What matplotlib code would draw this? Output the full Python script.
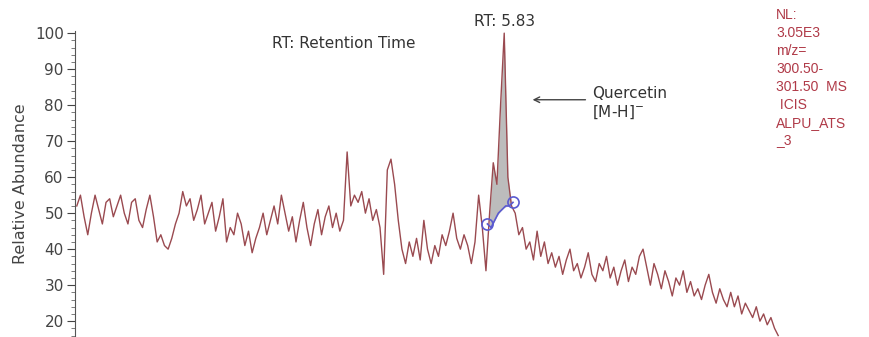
import numpy as np
import matplotlib
matplotlib.use("Agg")
import matplotlib.pyplot as plt

plt.rcParams['font.family'] = ['DejaVu Sans']

# chromatogram trace, relative abundance (%), one value every 0.05 min
abundance = [
    52, 55, 49, 44, 50, 55, 51, 47, 53, 54, 49, 52, 55, 50, 47, 53, 54, 48, 46, 51, 55, 49, 42, 44, 41,
    40, 43, 47, 50, 56, 52, 54, 48, 51, 55, 47, 50, 53, 45, 49, 54, 42, 46, 44, 50, 47, 41, 45, 39, 43,
    46, 50, 44, 48, 52, 47, 55, 50, 45, 49, 42, 48, 53, 46, 41, 47, 51, 44, 49, 52, 46, 50, 45, 48,
    67, 52, 55, 53, 56, 50, 54, 48, 51, 46, 33, 62, 65, 58, 48, 40, 36, 42, 38, 43, 37, 48, 40, 36,
    41, 38, 44, 41, 45, 50, 43, 40, 44, 41, 36, 42, 55, 46, 34, 50, 64, 58, 80, 100, 60, 52, 50, 44,
    46, 40, 42, 37, 45, 38, 42, 36, 39, 35, 38, 33, 37, 40, 34, 36, 32, 35, 39, 33, 31, 36, 34, 38,
    32, 35, 30, 34, 37, 31, 35, 33, 38, 40, 35, 30, 36, 33, 29, 34, 31, 27, 32, 30, 34, 28, 31, 27,
    29, 26, 30, 33, 28, 25, 29, 26, 24, 28, 24, 27, 22, 25, 23, 21, 24, 20, 22, 19, 21, 18, 16,
]
times = np.arange(len(abundance)) * 0.05

# integration baseline under the quercetin peak
base_times = [5.62, 5.67, 5.72, 5.77, 5.82, 5.87, 5.92, 5.97]
base_values = [47, 46, 48, 50, 51, 52, 52, 53]

peak_rt = 5.85
y_ticks = [20, 30, 40, 50, 60, 70, 80, 90, 100]
info_text = "NL:\n3.05E3\nm/z=\n300.50-\n301.50  MS\n ICIS\nALPU_ATS\n_3"

fig = plt.figure(figsize=(8.7, 3.37), dpi=100)
ax = fig.add_axes([0.086, 0.0, 0.82, 0.907])

# peak area (grey) between trace and baseline
mask = (times >= base_times[0]) & (times <= base_times[-1])
base_interp = np.interp(times[mask], base_times, base_values)
ax.fill_between(times[mask], base_interp, np.array(abundance)[mask],
                where=np.array(abundance)[mask] > base_interp,
                color='#b5b5b5', alpha=0.9, linewidth=0, interpolate=True)

ax.plot(times, abundance, color='#9a4a50', linewidth=1.0)
ax.plot(base_times, base_values, color='#5a5ad0', linewidth=1.2)
ax.plot([base_times[0], base_times[-1]], [base_values[0], base_values[-1]], 'o',
        markerfacecolor='none', markeredgecolor='#5a5ad0', markersize=8, markeredgewidth=1.2)

ax.set_xlim(-0.027, 9.737)
ax.set_ylim(15.6, 100.5)
ax.set_yticks(y_ticks)
ax.set_yticks(np.arange(16, 101, 2), minor=True)
ax.tick_params(axis='y', which='major', length=6, width=0.8, labelsize=11, colors='#444444', pad=2)
ax.tick_params(axis='y', which='minor', length=3, width=0.6, color='#666666')
ax.set_xticks([])
for s in ['top', 'right', 'bottom']:
    ax.spines[s].set_visible(False)
ax.spines['left'].set_color('#555555')
ax.set_ylabel('Relative Abundance', fontsize=11.5, color='#444444', labelpad=5)

ax.text(3.65, 97, 'RT: Retention Time', fontsize=11, color='#333333', ha='center', va='center')
ax.text(peak_rt, 103.2, 'RT: 5.83', fontsize=11, color='#333333', ha='center', va='center',
        clip_on=False)
ax.annotate('', xy=(6.2, 81.5), xytext=(7.0, 81.5),
            arrowprops=dict(arrowstyle='->', color='#444444', lw=1.0))
ax.text(7.05, 80.5, 'Quercetin\n[M-H]$^{-}$', fontsize=11, color='#333333',
        ha='left', va='center', linespacing=1.15)

fig.text(0.892, 0.975, info_text, fontsize=10, color='#b03a48', ha='left', va='top',
         family='Liberation Sans', linespacing=1.35)

fig.savefig('out.png', dpi=100)
